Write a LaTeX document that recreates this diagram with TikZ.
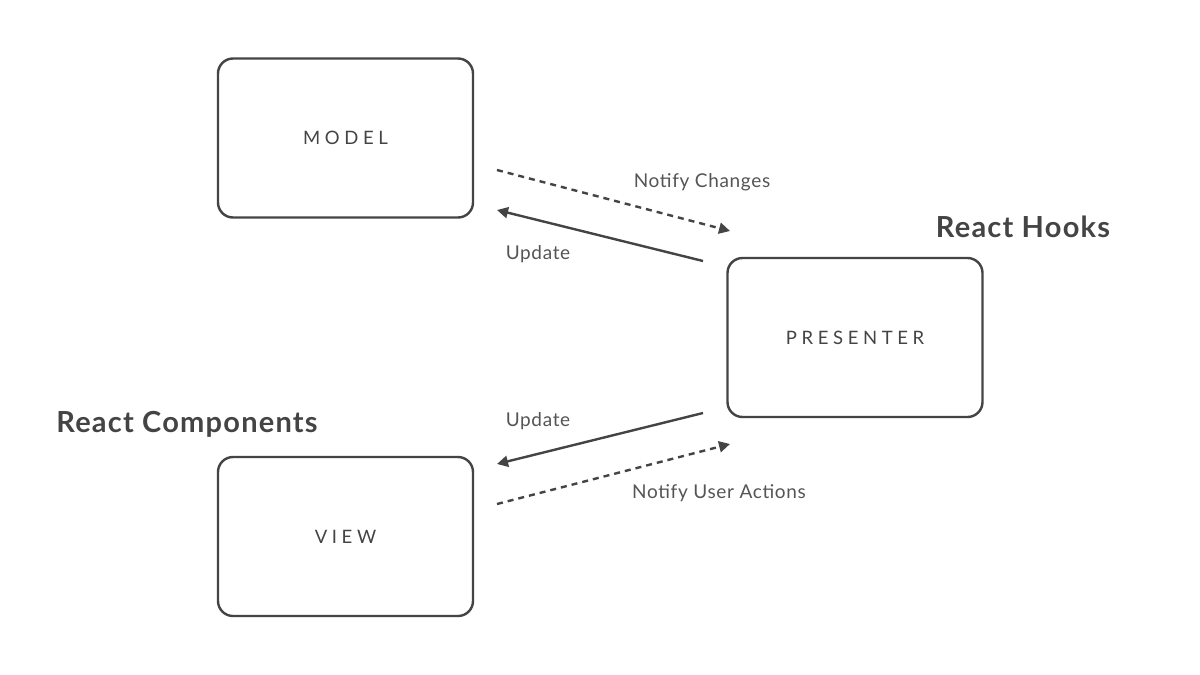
\documentclass[tikz,border=0pt]{standalone}
\usepackage{fontspec}
\setmainfont{Lato}
\newfontfamily\boxfont[LetterSpace=25]{Lato}
\newfontfamily\lblfont[LetterSpace=3.5]{Lato}
\newfontfamily\ttlfont[LetterSpace=4.2]{Lato}
\usetikzlibrary{arrows.meta}
\definecolor{linec}{HTML}{444444}
\definecolor{txtc}{HTML}{555555}
\tikzset{
  box/.style={draw=linec, line width=2.4pt, rounded corners=15pt, minimum width=255pt, minimum height=159pt, inner sep=0pt, font=\boxfont\fontsize{18.5}{20}\selectfont, text=linec},
  conn/.style={draw=linec, line width=2.4pt, -{Triangle[length=11pt,width=11pt]}},
  dconn/.style={conn, dash pattern=on 6pt off 5pt},
  lbl/.style={font=\lblfont\fontsize{19}{21}\selectfont, text=txtc, inner sep=0pt},
  ttl/.style={font=\ttlfont\bfseries\fontsize{29}{32}\selectfont, text=linec, inner sep=0pt}
}
\begin{document}
\begin{tikzpicture}[x=1pt,y=-1pt]
\useasboundingbox[fill=white] (0,0) rectangle (1200,675);
\node[box] (model) at (345.5,138) {MODEL};
\node[box] (presenter) at (855,337.5) {PRESENTER};
\node[box] (view) at (345.5,536.5) {VIEW};
\coordinate (nc1) at (497,170);
\coordinate (nc2) at (730,231);
\coordinate (up1) at (703,261);
\coordinate (up2) at (497,210);
\coordinate (ul1) at (703,413);
\coordinate (ul2) at (497,464);
\coordinate (na1) at (497,504);
\coordinate (na2) at (730,444);
\draw[dconn] (nc1) -- (nc2);
\draw[conn] (up1) -- (up2);
\draw[conn] (ul1) -- (ul2);
\draw[dconn] (na1) -- (na2);
\node[lbl] (lnc) at (702,182) {Notify Changes};
\node[lbl] (lup) at (538,254) {Update};
\node[lbl] (lul) at (538,421) {Update};
\node[lbl] (lna) at (719,493) {Notify User Actions};
\node[ttl] (rh) at (1023,227) {React Hooks};
\node[ttl] (rc) at (187,424) {React Components};
\end{tikzpicture}
\end{document}
